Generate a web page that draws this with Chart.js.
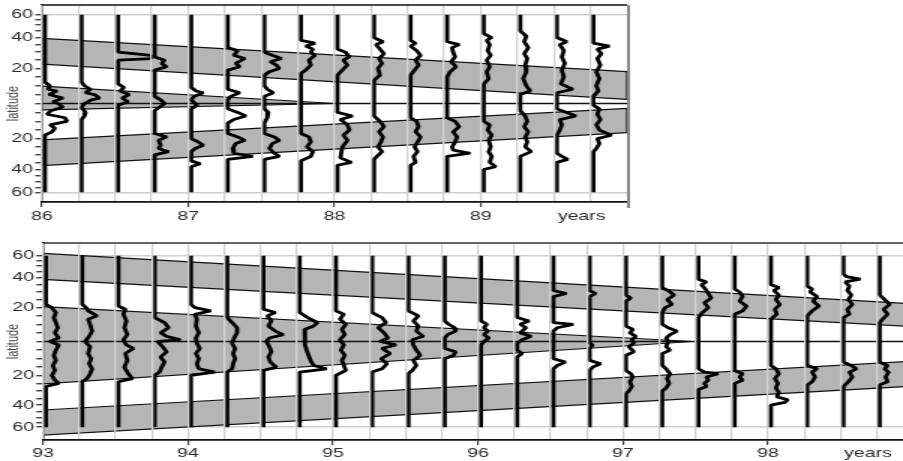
<!DOCTYPE html>
<html>
<head>
<meta charset="utf-8">
<script src="https://cdn.jsdelivr.net/npm/chart.js@4"></script>
<style>
  html, body { margin: 0; padding: 0; background: #fff; width: 903px; height: 461px; overflow: hidden; }
  .panel { position: absolute; left: 0; transform: scaleX(1.5); transform-origin: 0 0; }
  #top { top: 0; }
  #bottom { top: 230px; }
</style>
</head>
<body>
<div class="panel" id="top"><canvas id="chart86" width="602" height="225"></canvas></div>
<div class="panel" id="bottom"><canvas id="chart93" width="614" height="231"></canvas></div>
<script>
// activity unit -> offset in years to the right of each profile's base line
const ACTIVITY_YEARS = 1 / 146;

const latTicks = [60, 55, 50, 45, 40, 35, 30, 25, 20, 15, 10, 5, 0, -5, -10, -15, -20, -25, -30, -35, -40, -45, -50, -55, -60];
const unitLabel = 'years';
const unitLabelOffset = 0.69;

// ---- 1986-1990 ----
const yearTicks86 = [86, 87, 88, 89];
const profileYears86 = [86.02, 86.27, 86.52, 86.77, 87.02, 87.27, 87.52, 87.77, 88.02, 88.27, 88.52, 88.77, 89.02, 89.27, 89.52, 89.77];
// each profile: [latitude, activity] pairs, north to south
const profiles86 = [
  [[12,0],[10,5],[8,3],[7,12],[5,4],[3,18],[1,8],[0,13],[-2,18],[-4,6],[-6,2],[-8,20],[-10,22],[-12,5],[-14,10],[-16,7],[-18,0]],
  [[12,0],[10,3],[8,9],[6,4],[5,13],[3,18],[2,10],[0,3],[-2,0],[-5,4],[-7,3],[-9,0]],
  [[30,0],[28,33],[26,33],[25,0],[11,0],[9,6],[7,2],[5,11],[3,4],[1,10],[-1,0]],
  [[27,0],[25,10],[23,7],[21,12],[19,0],[4,0],[2,6],[0,10],[-2,5],[-4,0],[-17,0],[-19,12],[-21,4],[-24,6],[-26,4],[-28,14],[-30,0]],
  [[9,0],[7,5],[6,12],[4,3],[2,0],[-1,6],[-3,0],[-20,0],[-22,7],[-24,12],[-26,4],[-28,0],[-34,0],[-36,9],[-38,0]],
  [[33,0],[31,10],[28,6],[26,17],[23,8],[21,12],[19,0],[8,0],[6,12],[4,3],[2,0],[-3,0],[-5,10],[-7,18],[-9,6],[-11,0],[-17,0],[-19,10],[-21,17],[-23,8],[-26,5],[-29,6],[-31,25],[-33,0]],
  [[30,0],[28,8],[26,17],[24,6],[22,12],[20,15],[18,5],[16,0],[10,0],[8,3],[6,9],[4,0],[-3,0],[-5,4],[-8,3],[-11,0],[-17,0],[-19,10],[-21,15],[-23,8],[-26,5],[-29,10],[-31,15],[-33,0]],
  [[38,0],[36,14],[34,5],[32,12],[30,10],[28,14],[25,8],[22,10],[19,5],[17,0],[-17,0],[-19,8],[-22,10],[-25,6],[-28,12],[-31,10],[-34,0]],
  [[32,0],[30,8],[27,12],[25,6],[22,10],[19,5],[16,0],[-5,0],[-7,15],[-9,3],[-12,10],[-15,12],[-18,6],[-21,10],[-25,5],[-28,4],[-32,3],[-35,14],[-37,0]],
  [[40,0],[37,9],[35,2],[32,6],[29,10],[26,5],[23,8],[20,4],[16,6],[13,0],[-7,0],[-10,6],[-13,10],[-16,5],[-19,9],[-22,7],[-25,4],[-28,8],[-31,3],[-33,0]],
  [[38,0],[36,5],[34,0],[31,6],[28,10],[25,5],[22,8],[19,4],[16,0],[-8,0],[-10,6],[-13,8],[-16,5],[-19,10],[-22,7],[-25,4],[-28,7],[-31,3],[-35,5],[-37,0]],
  [[37,0],[35,12],[33,5],[30,6],[27,8],[24,4],[21,9],[18,3],[15,0],[-8,0],[-10,8],[-13,12],[-16,6],[-19,10],[-22,8],[-25,5],[-27,6],[-29,23],[-31,0]],
  [[43,0],[40,8],[38,3],[35,6],[31,4],[28,7],[25,3],[21,6],[18,3],[14,5],[11,0],[-10,0],[-12,6],[-15,4],[-18,8],[-21,5],[-25,7],[-28,5],[-31,8],[-35,6],[-38,12],[-40,0]],
  [[45,0],[41,6],[37,4],[33,8],[29,4],[26,7],[22,5],[18,6],[14,3],[10,6],[7,10],[5,0],[-4,0],[-7,5],[-10,7],[-13,4],[-16,8],[-19,5],[-22,7],[-25,5],[-28,11],[-31,0]],
  [[40,0],[37,10],[35,3],[31,7],[27,5],[23,8],[19,5],[15,7],[11,4],[8,16],[6,0],[-3,0],[-5,10],[-7,19],[-9,3],[-12,5],[-15,3],[-18,0],[-29,0],[-31,5],[-33,11],[-35,0]],
  [[36,0],[34,16],[32,4],[29,8],[26,4],[22,7],[18,3],[14,6],[10,3],[7,5],[4,0],[-1,0],[-3,6],[-6,4],[-9,7],[-12,3],[-15,6],[-18,18],[-20,4],[-23,6],[-26,3],[-28,0]]
];
// band outlines as [year, latitude]
const northBand86 = [[86, 39.4], [90, 18.1], [90, 2.3], [86, 22.6]];
const equatorWedge86 = [[86, 9.8], [88.0, 0], [86, -3.6]];
const southBand86 = [[86, -20.8], [90, -2.7], [90, -16.5], [86, -37.3]];

// ---- 1993-1999 ----
const yearTicks93 = [93, 94, 95, 96, 97, 98];
const profileYears93 = [93.02, 93.27, 93.52, 93.77, 94.02, 94.27, 94.52, 94.77, 95.02, 95.27, 95.52, 95.77,
  96.02, 96.27, 96.52, 96.77, 97.02, 97.27, 97.52, 97.77, 98.02, 98.27, 98.52, 98.77];
const profiles93 = [
  [[22,0],[20,6],[17,10],[14,8],[11,10],[8,12],[5,9],[2,13],[0,4],[-2,13],[-5,10],[-8,8],[-11,10],[-14,7],[-17,9],[-20,6],[-23,9],[-25,13],[-27,0]],
  [[22,0],[20,4],[18,6],[15,15],[13,6],[10,8],[6,10],[3,7],[0,3],[-3,8],[-7,6],[-10,9],[-13,7],[-16,10],[-19,8],[-22,5],[-24,0]],
  [[21,0],[19,7],[16,5],[12,8],[8,6],[4,9],[1,5],[-2,8],[-4,15],[-7,7],[-11,9],[-15,6],[-19,10],[-22,14],[-24,0]],
  [[14,0],[11,10],[8,14],[5,6],[3,12],[1,26],[0,3],[-3,8],[-6,12],[-9,6],[-12,10],[-15,7],[-18,5],[-20,0]],
  [[22,0],[20,4],[18,20],[16,4],[13,6],[9,5],[5,8],[2,5],[-1,6],[-4,9],[-7,5],[-10,8],[-13,6],[-16,8],[-18,24],[-20,0]],
  [[14,0],[11,5],[8,10],[5,10],[2,7],[-1,5],[-4,8],[-7,6],[-10,8],[-13,6],[-16,5],[-18,0]],
  [[19,0],[17,12],[15,4],[12,8],[9,5],[6,12],[4,20],[2,6],[0,3],[-3,6],[-6,8],[-9,5],[-12,7],[-15,13],[-17,0]],
  [[17,0],[14,8],[11,18],[9,14],[7,5],[4,6],[1,5],[-2,5],[-5,7],[-8,9],[-11,11],[-14,14],[-16,27],[-18,0]],
  [[18,0],[16,8],[13,4],[10,10],[7,6],[4,9],[1,4],[-2,8],[-5,5],[-8,9],[-11,6],[-14,8],[-17,10],[-20,0]],
  [[17,0],[14,10],[11,14],[8,6],[5,12],[2,16],[0,8],[-2,24],[-4,10],[-7,18],[-10,9],[-13,15],[-16,10],[-18,0]],
  [[18,0],[15,10],[12,5],[9,10],[6,8],[3,15],[1,4],[-2,5],[-5,8],[-8,12],[-11,5],[-14,8],[-17,4],[-19,0]],
  [[12,0],[10,4],[8,10],[6,11],[4,3],[2,0],[-4,0],[-6,11],[-8,9],[-10,0]],
  [[12,0],[10,6],[8,3],[6,7],[4,3],[2,8],[0,3],[-2,0]],
  [[14,0],[12,12],[10,3],[8,9],[5,3],[3,14],[1,5],[-1,0],[-5,0],[-7,5],[-9,0]],
  [[31,0],[29,13],[27,0],[11,0],[10,20],[8,4],[6,0],[-10,0],[-12,12],[-14,4],[-16,0]],
  [[31,0],[29,6],[27,0],[-1,0],[-2,3],[-4,0],[-11,0],[-13,11],[-15,3],[-17,0]],
  [[28,0],[26,5],[24,0],[9,0],[7,7],[5,4],[3,10],[1,6],[-1,8],[-3,3],[-6,8],[-8,0],[-17,0],[-19,5],[-21,7],[-24,4],[-27,6],[-30,3],[-32,0]],
  [[33,0],[31,6],[28,12],[25,5],[22,10],[20,3],[17,0],[10,0],[8,6],[6,15],[4,8],[2,4],[0,6],[-3,4],[-5,8],[-7,0],[-14,0],[-16,4],[-19,8],[-22,5],[-25,7],[-28,4],[-30,0]],
  [[39,0],[37,8],[35,3],[32,7],[29,10],[26,13],[23,6],[20,10],[17,4],[14,0],[-16,0],[-18,6],[-19,20],[-21,8],[-23,10],[-25,6],[-27,8],[-29,0]],
  [[32,0],[30,5],[27,8],[24,5],[21,12],[18,8],[16,0],[-17,0],[-19,8],[-21,5],[-23,8],[-25,0]],
  [[35,0],[33,8],[31,3],[28,8],[25,5],[22,9],[19,4],[16,6],[13,0],[-14,0],[-16,5],[-19,8],[-22,4],[-25,7],[-28,5],[-31,8],[-34,6],[-36,17],[-38,14],[-40,0]],
  [[34,0],[32,5],[30,3],[27,10],[24,6],[21,12],[18,5],[15,0],[-14,0],[-16,10],[-18,5],[-21,8],[-24,5],[-26,0]],
  [[43,0],[41,3],[39,17],[37,2],[34,6],[31,4],[28,8],[25,5],[22,9],[19,4],[16,6],[14,0],[-12,0],[-14,8],[-16,13],[-18,6],[-21,9],[-24,5],[-27,0]],
  [[28,0],[25,5],[22,10],[19,4],[16,8],[13,3],[11,0],[-12,0],[-14,8],[-16,5],[-18,9],[-21,6],[-24,8],[-26,0]]
];
const northBand93 = [[93, 63], [99, 22.3], [99, 8.7], [93, 38.9]];
const equatorWedge93 = [[93, 20.6], [97.48, 0], [93, -25.4]];
const southBand93 = [[93, -43.8], [99, -11.4], [99, -26.8], [93, -70.8]];

Chart.defaults.font.family = '"Liberation Sans", Arial, sans-serif';

// latitude axis is linear in sin(latitude)
const sinLat = lat => Math.sin(lat * Math.PI / 180);

// top edge (and optional right edge) of the plot frame
const framePlugin = {
  id: 'frame',
  afterDraw(chart, args, opts) {
    const { ctx, chartArea: a } = chart;
    ctx.save();
    ctx.strokeStyle = opts.topColor;
    ctx.lineWidth = 1.3;
    ctx.beginPath();
    ctx.moveTo(a.left, a.top);
    ctx.lineTo(a.right, a.top);
    ctx.stroke();
    if (opts.right) {
      ctx.strokeStyle = '#888';
      ctx.lineWidth = 2;
      ctx.beginPath();
      ctx.moveTo(a.right + 1, a.top);
      ctx.lineTo(a.right + 1, a.bottom + 6);
      ctx.stroke();
    }
    ctx.restore();
  }
};

function drawPanel(canvasId, o) {
  const datasets = [];

  o.profileYears.forEach((t, i) => {
    const pts = [{ x: t, y: sinLat(60) }];
    o.profiles[i].forEach(([lat, a]) => pts.push({ x: t + a * ACTIVITY_YEARS, y: sinLat(lat) }));
    pts.push({ x: t, y: sinLat(-60) });
    datasets.push({ data: pts, showLine: true, borderColor: '#000', borderWidth: 2.8,
      borderJoinStyle: 'bevel', pointRadius: 0, order: 0 });
  });

  datasets.push({ data: [{ x: o.min, y: 0 }, { x: o.max, y: 0 }], showLine: true,
    borderColor: '#111', borderWidth: 1.3, pointRadius: 0, order: 1 });

  o.bands.forEach(b => {
    const pts = b.concat([b[0]]).map(([t, lat]) => ({ x: t, y: sinLat(lat) }));
    datasets.push({ data: pts, showLine: true, borderColor: '#111', borderWidth: 1.2,
      backgroundColor: '#b5b5b5', fill: 'shape', pointRadius: 0, order: 2 });
  });

  // quarter-year grid, labels only on whole years, plus the unit label
  const xTicks = [], xLabels = [];
  for (let q = o.min; q < o.max - 1e-6; q += 0.25) {
    xTicks.push(q);
    xLabels.push(o.yearTicks.includes(q) ? String(q) : '');
  }
  const unitAt = o.yearTicks[o.yearTicks.length - 1] + unitLabelOffset;
  const k = xTicks.findIndex(v => v > unitAt);
  xTicks.splice(k, 0, unitAt);
  xLabels.splice(k, 0, unitLabel);

  const tickFont = { size: 13 };

  new Chart(document.getElementById(canvasId), {
    type: 'scatter',
    data: { datasets },
    plugins: [framePlugin],
    options: {
      responsive: false,
      animation: false,
      devicePixelRatio: 1,
      events: [],
      layout: { padding: o.padding },
      plugins: {
        legend: { display: false },
        tooltip: { enabled: false },
        frame: { topColor: o.topBorder, right: o.rightBorder }
      },
      elements: { line: { tension: 0 } },
      scales: {
        x: {
          type: 'linear', min: o.min, max: o.max,
          afterFit: s => { s.height = o.xHeight; },
          afterBuildTicks: s => { s.ticks = xTicks.map(v => ({ value: v })); },
          ticks: { autoSkip: false, maxRotation: 0, padding: o.xPad, color: '#2a2a2a', font: tickFont,
            callback: (v, i) => xLabels[i] },
          grid: {
            z: 1, lineWidth: 1.3, tickLength: 5, tickWidth: 1,
            color: c => xLabels[c.index] === unitLabel ? 'rgba(0,0,0,0)' : '#d2d2d2',
            tickColor: c => (xLabels[c.index] && xLabels[c.index] !== unitLabel) ? '#222' : 'rgba(0,0,0,0)'
          },
          border: { z: 1, color: '#111', width: 1.8 }
        },
        y: {
          type: 'linear', min: -o.yLim, max: o.yLim,
          afterFit: s => { s.width = o.yWidth; s.paddingTop = 0; s.paddingBottom = 0; },
          afterBuildTicks: s => { s.ticks = latTicks.map(l => ({ value: sinLat(l) })); },
          ticks: { autoSkip: false, padding: 1.5, color: '#2a2a2a', font: tickFont,
            callback: (v, i) => (latTicks[i] % 20 === 0 && latTicks[i] !== 0) ? String(Math.abs(latTicks[i])) : '' },
          grid: {
            lineWidth: 1.5, tickLength: 4.5, tickWidth: 1.2, tickColor: '#222',
            color: c => Math.abs(latTicks[c.index]) === 60 ? '#cfcfcf' : 'rgba(0,0,0,0)'
          },
          border: { color: '#111', width: 1.5 },
          title: { display: true, text: 'latitude', color: '#444', font: { size: 11 }, padding: { top: 2, bottom: 0 } }
        }
      }
    }
  });
}

drawPanel('chart86', {
  min: 86, max: 90, yLim: 0.96,
  yearTicks: yearTicks86,
  profileYears: profileYears86, profiles: profiles86,
  bands: [northBand86, equatorWedge86, southBand86],
  padding: { left: 0, top: 5, right: 184, bottom: 0 },
  yWidth: 28, xHeight: 23, xPad: 2, topBorder: '#111', rightBorder: true
});

drawPanel('chart93', {
  min: 93, max: 99, yLim: 0.995,
  yearTicks: yearTicks93,
  profileYears: profileYears93, profiles: profiles93,
  bands: [northBand93, equatorWedge93, southBand93],
  padding: { left: 0, top: 13, right: 5.33, bottom: 0 },
  yWidth: 28.67, xHeight: 21, xPad: 1, topBorder: '#333', rightBorder: false
});
</script>
</body>
</html>
